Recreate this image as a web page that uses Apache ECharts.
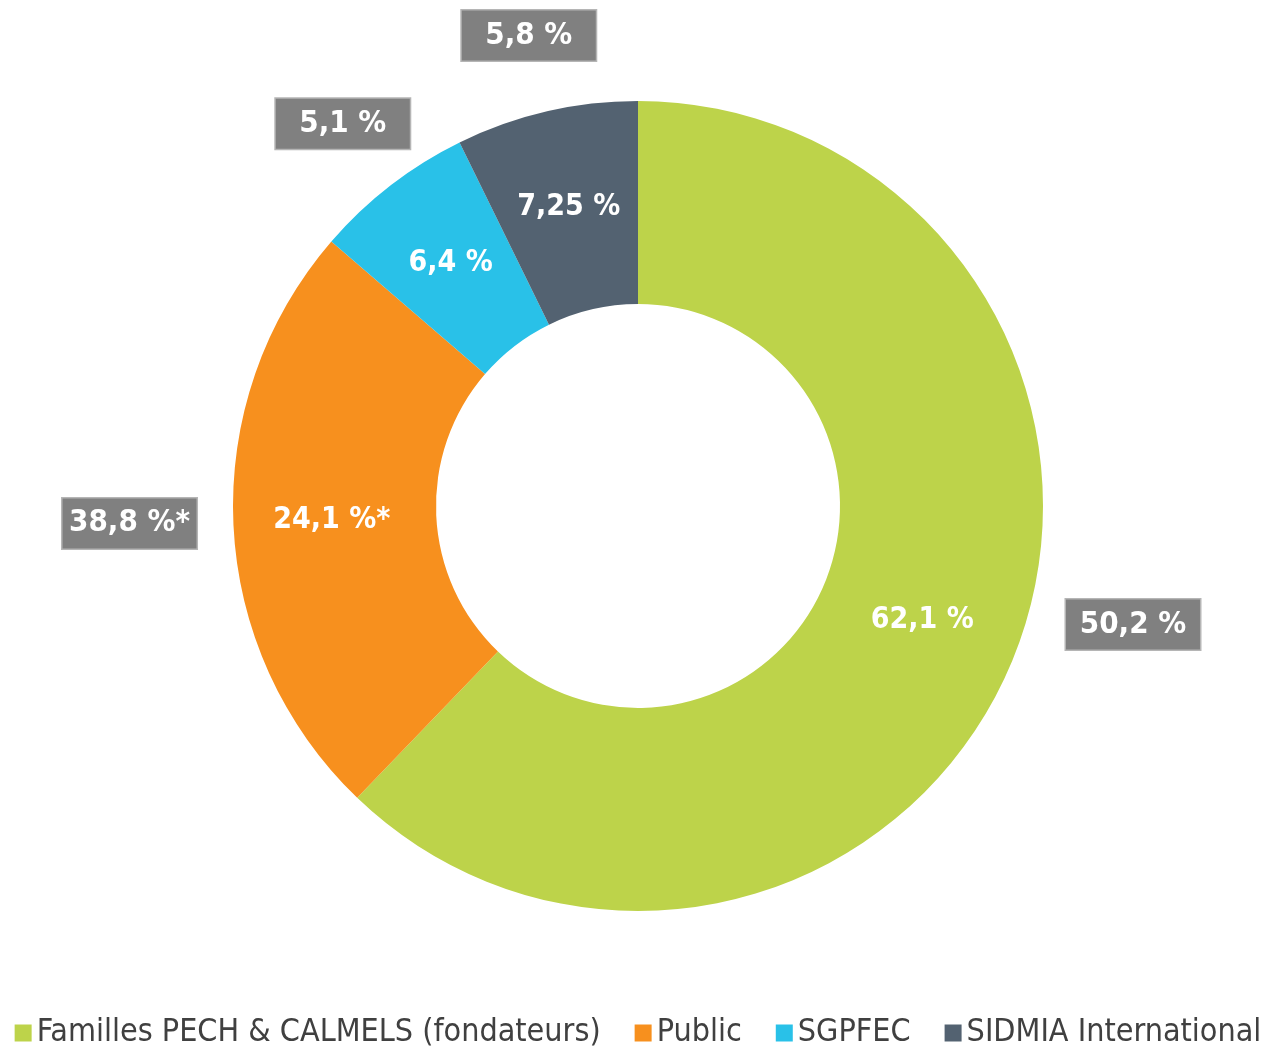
<!DOCTYPE html>
<html>
<head>
<meta charset="utf-8">
<title>Répartition du capital</title>
<script src="https://cdn.jsdelivr.net/npm/echarts@6/dist/echarts.min.js"></script>
<style>
  html, body { margin: 0; padding: 0; background: #fff; }
  #chart { width: 1276px; height: 1051px; }
</style>
</head>
<body>
<div id="chart"></div>
<script>
// chart data
const categories = ['Familles PECH & CALMELS (fondateurs)', 'Public', 'SGPFEC', 'SIDMIA International']
const capitalShare = [62.1, 24.1, 6.4, 7.25] // inner ring labels
const voteShare = [50.2, 38.8, 5.1, 5.8] // grey boxes
const footnotes = ['', '*', '', '']
const colors = ['#bdd34a', '#f7901e', '#29c1e8', '#536271']

const font = '"DejaVu Sans Condensed", "Arial Narrow", sans-serif'

// small nudges of the grey boxes, like in the original excel chart
const boxNudge = [[47, -62], [-26, -5], null, null]

function fmt(v) {
  return String(v).replace('.', ',') + ' %'
}

const chart = echarts.init(document.getElementById('chart'))

chart.setOption({
  animation: false,
  color: colors,
  legend: {
    data: categories,
    top: 1012,
    left: 'center',
    icon: 'rect',
    itemWidth: 17,
    itemHeight: 17,
    itemGap: 34,
    textStyle: {
      fontFamily: font,
      fontSize: 32,
      color: '#404040'
    }
  },
  series: [
    {
      name: 'capital',
      type: 'pie',
      center: [638, 506],
      radius: [202, 405],
      startAngle: 90,
      clockwise: true,
      silent: true,
      label: {
        show: true,
        position: 'inside',
        color: '#fff',
        fontFamily: font,
        fontWeight: 'bold',
        fontSize: 30,
        formatter: p => fmt(p.value) + footnotes[p.dataIndex]
      },
      labelLine: { show: false },
      data: categories.map((name, i) => ({ name, value: capitalShare[i] }))
    },
    {
      // invisible ring, only used to place the grey boxes
      name: 'votes',
      type: 'pie',
      center: [638, 506],
      radius: [465, 495],
      startAngle: 90,
      clockwise: true,
      silent: true,
      itemStyle: { color: 'transparent' },
      label: {
        show: true,
        position: 'inside',
        color: '#fff',
        fontFamily: font,
        fontWeight: 'bold',
        fontSize: 31,
        backgroundColor: '#808080',
        borderColor: '#b5b5b5',
        borderWidth: 1.5,
        width: 134,
        height: 38,
        lineHeight: 38,
        align: 'center',
        padding: [6, 0],
        formatter: p => fmt(voteShare[p.dataIndex]) + footnotes[p.dataIndex]
      },
      labelLine: { show: false },
      data: categories.map((name, i) => ({
        name,
        value: capitalShare[i],
        label: boxNudge[i] ? { offset: boxNudge[i] } : undefined
      }))
    }
  ]
})
</script>
</body>
</html>
